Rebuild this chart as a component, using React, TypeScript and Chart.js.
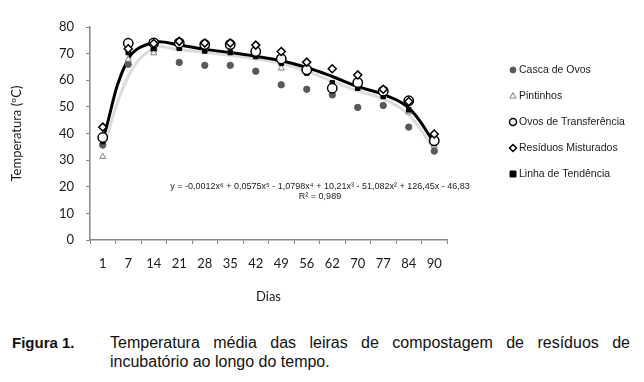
import React, { useEffect, useRef } from 'react';
import { Chart, registerables } from 'chart.js';

Chart.register(...registerables);

const dias = ['1', '7', '14', '21', '28', '35', '42', '49', '56', '62', '70', '77', '84', '90'];
const cascaDeOvos = [35.7, 66, 71.5, 66.7, 65.6, 65.6, 63.4, 58.3, 56.6, 54.5, 49.8, 50.5, 42.4, 33.4];
const pintinhos = [31.3, 67.8, 70.2, 72.3, 72, 71, 69, 64.5, 63, 57.5, 57.2, 54.5, 48, 35.5];
const ovosDeTransferencia = [38.5, 73.9, 74, 74, 73.4, 73.4, 70.8, 68, 63.9, 57, 59.1, 55.9, 52.3, 37.3];
const residuosMisturados = [42.4, 71.8, 73.8, 74.6, 74, 74, 73.2, 70.8, 66.8, 64.3, 62, 56.6, 52, 39.8];
const linhaDeTendencia = [37, 70.4, 72, 72, 71, 70.4, 68.9, 66.4, 62.7, 59, 57, 53.9, 48.9, 36.3];
const curvaTendencia = [37.6, 68, 74.2, 73.2, 71.6, 70.4, 69, 67.3, 64.8, 61.4, 57.6, 54.7, 49.6, 36.6];
const curvaCinza = [34, 61.5, 72, 71.5, 70.5, 69.4, 68, 66.3, 63.4, 59.6, 56, 53, 47, 34];

const legendLabels = ['Casca de Ovos', 'Pintinhos', 'Ovos de Transferência', 'Resíduos Misturados', 'Linha de Tendência'];
const equationText = 'y = -0,0012x⁶ + 0,0575x⁵ - 1,0798x⁴ + 10,21x³ - 51,082x² + 126,45x - 46,83';
const r2Text = 'R² = 0,989';
const yTitle = 'Temperatura (ºC)';
const xTitle = 'Dias';

const axisColor = '#868686';
const tickFont = { family: 'Lato', size: 13 };

function drawMarker(ctx: CanvasRenderingContext2D, style: string, x: number, y: number, r: number, fill: string, stroke: string, lw: number) {
  ctx.save();
  ctx.beginPath();
  if (style === 'circle') {
    ctx.arc(x, y, r, 0, Math.PI * 2);
  } else if (style === 'triangle') {
    ctx.moveTo(x, y - r);
    ctx.lineTo(x + r * 0.9, y + r * 0.6);
    ctx.lineTo(x - r * 0.9, y + r * 0.6);
    ctx.closePath();
  } else if (style === 'rectRot') {
    ctx.moveTo(x, y - r);
    ctx.lineTo(x + r, y);
    ctx.lineTo(x, y + r);
    ctx.lineTo(x - r, y);
    ctx.closePath();
  } else {
    ctx.rect(x - r, y - r, 2 * r, 2 * r);
  }
  ctx.fillStyle = fill;
  ctx.fill();
  ctx.lineWidth = lw;
  ctx.strokeStyle = stroke;
  ctx.stroke();
  ctx.restore();
}

const legendMarkers = [
  { style: 'circle', r: 3, fill: '#595959', stroke: '#595959', lw: 1 },
  { style: 'triangle', r: 3.5, fill: '#ffffff', stroke: '#7f7f7f', lw: 1 },
  { style: 'circle', r: 3.5, fill: '#ffffff', stroke: '#000000', lw: 1.5 },
  { style: 'rectRot', r: 3.5, fill: '#ffffff', stroke: '#000000', lw: 1.5 },
  { style: 'rect', r: 3, fill: '#000000', stroke: '#000000', lw: 1 },
];

const overlayPlugin = {
  id: 'overlay',
  afterDraw(chart: any) {
    const ctx: CanvasRenderingContext2D = chart.ctx;
    ctx.save();
    ctx.font = '10.5px "Liberation Sans", Arial, sans-serif';
    ctx.textBaseline = 'middle';
    ctx.textAlign = 'left';
    legendLabels.forEach((label, i) => {
      const y = 70 + i * 26;
      const m = legendMarkers[i];
      drawMarker(ctx, m.style, 513, y, m.r, m.fill, m.stroke, m.lw);
      ctx.fillStyle = '#1a1a1a';
      ctx.fillText(label, 519, y);
    });
    ctx.font = '9px "Liberation Sans", Arial, sans-serif';
    ctx.textAlign = 'center';
    ctx.fillStyle = '#222';
    ctx.fillText(equationText, 320, 187);
    ctx.fillText(r2Text, 320, 197);
    ctx.restore();
  },
};

export default function App() {
  const canvasRef = useRef<HTMLCanvasElement | null>(null);

  useEffect(() => {
    document.body.style.margin = '0';
    const canvas = canvasRef.current;
    if (!canvas) return;
    const chart = new Chart(canvas, {
      type: 'line',
      data: {
        labels: dias,
        datasets: [
          {
            label: 'Casca de Ovos',
            data: cascaDeOvos,
            showLine: false,
            pointStyle: 'circle',
            pointRadius: 3.2,
            pointBackgroundColor: '#595959',
            pointBorderColor: '#595959',
            pointBorderWidth: 1,
            order: 5,
          },
          {
            label: 'Pintinhos',
            data: pintinhos,
            showLine: false,
            pointStyle: 'triangle',
            pointRadius: 3.5,
            pointBackgroundColor: '#ffffff',
            pointBorderColor: '#7f7f7f',
            pointBorderWidth: 1,
            order: 4,
          },
          {
            label: 'Linha de Tendência',
            data: linhaDeTendencia,
            showLine: false,
            pointStyle: 'rect',
            pointRadius: 3.2,
            pointBackgroundColor: '#000000',
            pointBorderColor: '#000000',
            pointBorderWidth: 1,
            order: 3,
          },
          {
            label: 'Ovos de Transferência',
            data: ovosDeTransferencia,
            showLine: false,
            pointStyle: 'circle',
            pointRadius: 4.7,
            pointBackgroundColor: '#ffffff',
            pointBorderColor: '#000000',
            pointBorderWidth: 1.5,
            order: 2,
          },
          {
            label: 'Resíduos Misturados',
            data: residuosMisturados,
            showLine: false,
            pointStyle: 'rectRot',
            pointRadius: 4,
            pointBackgroundColor: '#ffffff',
            pointBorderColor: '#000000',
            pointBorderWidth: 1.5,
            order: 1,
          },
          {
            label: 'curva',
            data: curvaTendencia,
            borderColor: '#000000',
            borderWidth: 3,
            pointRadius: 0,
            tension: 0.4,
            order: 6,
          },
          {
            label: 'curva cinza',
            data: curvaCinza,
            borderColor: '#dcdcdc',
            borderWidth: 3,
            pointRadius: 0,
            tension: 0.4,
            order: 7,
          },
        ],
      },
      options: {
        animation: false,
        responsive: false,
        maintainAspectRatio: false,
        layout: { padding: { left: 0, right: 197, top: 27, bottom: 0 } },
        plugins: {
          legend: { display: false },
          tooltip: { enabled: false },
        },
        scales: {
          x: {
            type: 'category',
            offset: true,
            grid: {
              display: true,
              drawOnChartArea: false,
              drawTicks: true,
              tickLength: 4,
              offset: true,
              color: axisColor,
            },
            border: { display: true, color: axisColor, width: 1.5 },
            ticks: { font: tickFont, color: '#1a1a1a', padding: 12, maxRotation: 0, autoSkip: false },
            title: {
              display: true,
              text: xTitle,
              font: { family: 'Lato', size: 13 },
              color: '#1a1a1a',
              padding: { top: 0, bottom: 15 },
            },
            afterFit: (scale: any) => {
              scale.height = 80;
            },
          },
          y: {
            min: 0,
            max: 80,
            grid: {
              display: true,
              drawOnChartArea: false,
              drawTicks: true,
              tickLength: 4,
              color: axisColor,
            },
            border: { display: true, color: axisColor, width: 1.5 },
            ticks: { stepSize: 10, font: tickFont, color: '#1a1a1a', padding: 12 },
            title: {
              display: true,
              text: yTitle,
              font: { family: 'Lato', size: 13 },
              color: '#1a1a1a',
              padding: { top: 9, bottom: 0 },
            },
            afterFit: (scale: any) => {
              scale.width = 90;
            },
          },
        },
      },
      plugins: [overlayPlugin],
    });
    return () => chart.destroy();
  }, []);

  const capFont = '"Liberation Sans", Arial, sans-serif';
  return (
    <div style={{ position: 'relative', width: 644, height: 382, background: '#fff', overflow: 'hidden' }}>
      <canvas ref={canvasRef} width={644} height={320} style={{ position: 'absolute', left: 0, top: 0, width: 644, height: 320 }} />
      <div style={{ position: 'absolute', left: 12, top: 333, fontFamily: capFont, fontWeight: 'bold', fontSize: 15, lineHeight: '19px', color: '#111', whiteSpace: 'nowrap' }}>
        Figura 1.
      </div>
      <div style={{ position: 'absolute', left: 110, top: 333, width: 520, fontFamily: capFont, fontSize: 16, lineHeight: '19px', color: '#111', whiteSpace: 'nowrap', textAlign: 'justify', textAlignLast: 'justify' as any }}>
        Temperatura média das leiras de compostagem de resíduos de
      </div>
      <div style={{ position: 'absolute', left: 110, top: 352, fontFamily: capFont, fontSize: 16, lineHeight: '19px', color: '#111', whiteSpace: 'nowrap' }}>
        incubatório ao longo do tempo.
      </div>
    </div>
  );
}
